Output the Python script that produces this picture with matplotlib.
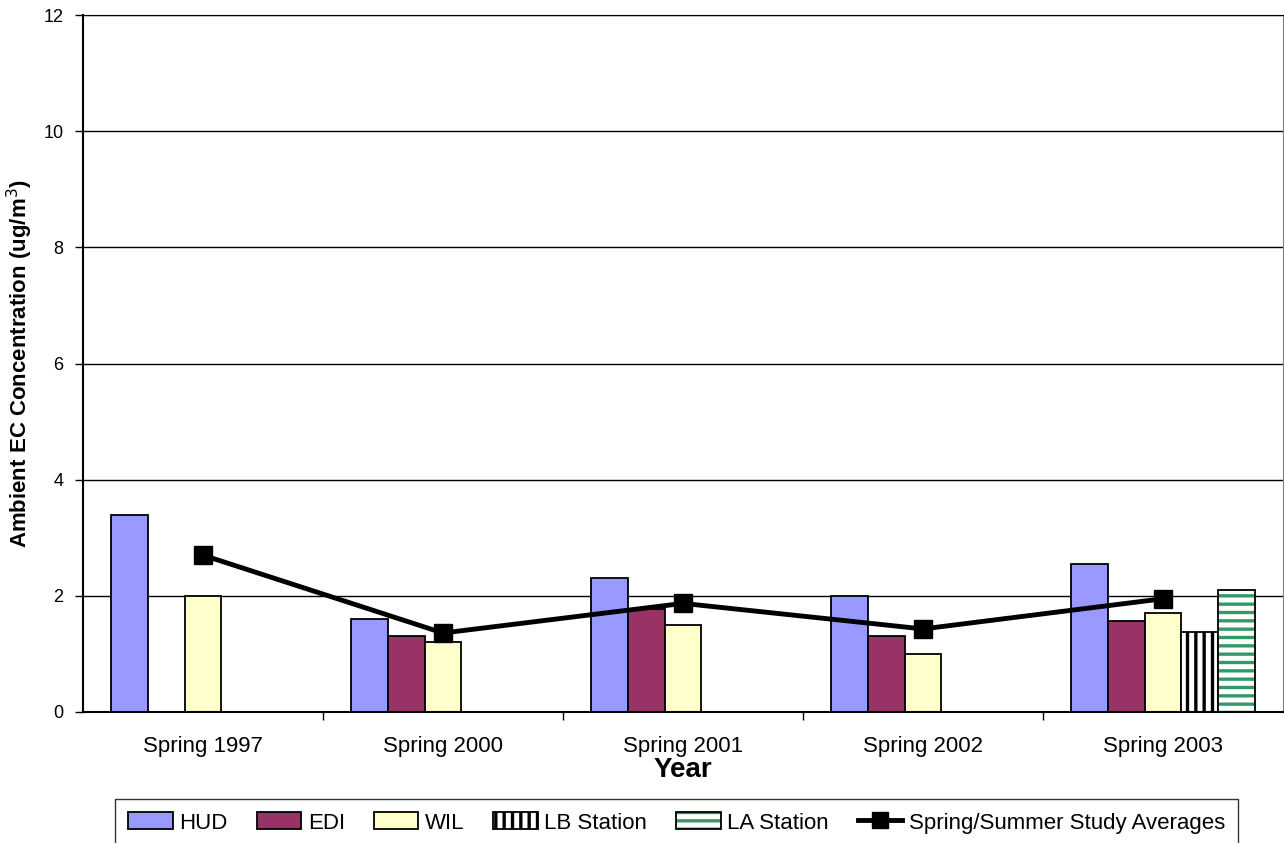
import numpy as np
import matplotlib
matplotlib.use("Agg")
import matplotlib.pyplot as plt
from matplotlib.patches import Patch
from matplotlib.lines import Line2D

plt.rcParams['font.family'] = ['Liberation Sans', 'DejaVu Sans']
plt.rcParams['hatch.linewidth'] = 2.4

# ambient EC by site and campaign (ug/m3); nan = not sampled
seasons = ["Spring 1997", "Spring 2000", "Spring 2001", "Spring 2002", "Spring 2003"]
hud = [3.4, 1.6, 2.3, 2.0, 2.55]
edi = [np.nan, 1.3, 1.78, 1.3, 1.57]
wil = [2.0, 1.2, 1.5, 1.0, 1.71]
lb_station = [np.nan, np.nan, np.nan, np.nan, 1.38]
la_station = [np.nan, np.nan, np.nan, np.nan, 2.1]
study_avg = [2.7, 1.36, 1.87, 1.43, 1.95]

fig = plt.figure(figsize=(12.84, 8.43), dpi=100)
ax = fig.add_axes([83 / 1284, 1 - 712 / 843, 1200 / 1284, 697 / 843])

x = np.arange(len(seasons))
w = 0.154

ax.bar(x - 2 * w, hud, w, color="#9999FF", edgecolor="black", linewidth=1.3, zorder=2)
ax.bar(x - w, edi, w, color="#993366", edgecolor="black", linewidth=1.3, zorder=2)
ax.bar(x, wil, w, color="#FFFFCC", edgecolor="black", linewidth=1.3, zorder=2)
ax.bar(x + w, lb_station, w, color="white", edgecolor="black", hatch="||",
       linewidth=1.3, zorder=2)
# green stripes first, black outline on top
ax.bar(x + 2 * w, la_station, w, color="white", edgecolor="#339966", hatch="--",
       linewidth=0, zorder=2)
ax.bar(x + 2 * w, la_station, w, fill=False, edgecolor="black", linewidth=1.3, zorder=2)

ax.plot(x, study_avg, color="black", lw=3.5, marker="s", markersize=13, zorder=4)

ax.set_xlim(-0.5, len(seasons) - 0.5)
ax.set_ylim(0, 12)
ax.set_yticks(range(0, 13, 2))
ax.yaxis.grid(True, color="black", lw=1)
ax.set_axisbelow(True)

ax.set_xticks(x)
ax.set_xticklabels(seasons, fontsize=16)
ax.set_xticks(np.arange(0.5, len(seasons) - 0.5, 1), minor=True)
ax.tick_params(axis="x", which="major", length=0, pad=17)
ax.tick_params(axis="x", which="minor", length=6, width=1, direction="out")
ax.tick_params(axis="y", labelsize=13, length=6, width=1, pad=8)

for side in ["left", "bottom"]:
    ax.spines[side].set_linewidth(1.5)
ax.spines["top"].set_color("black")
ax.spines["right"].set_color("#808080")

ax.set_xlabel("Year", fontsize=20, fontweight="bold", labelpad=0)
ax.set_ylabel("Ambient EC Concentration (ug/m$^3$)", fontsize=16, fontweight="bold",
              labelpad=6)

handles = [
    Patch(facecolor="#9999FF", edgecolor="black", lw=1.3),
    Patch(facecolor="#993366", edgecolor="black", lw=1.3),
    Patch(facecolor="#FFFFCC", edgecolor="black", lw=1.3),
    Patch(facecolor="white", edgecolor="black", hatch="||", lw=1.3),
    (Patch(facecolor="white", edgecolor="#339966", hatch="--", lw=0),
     Patch(fill=False, edgecolor="black", lw=1.3)),
    Line2D([], [], color="black", lw=3.5, marker="s", markersize=11),
]
labels = ["HUD", "EDI", "WIL", "LB Station", "LA Station", "Spring/Summer Study Averages"]
leg = fig.legend(handles, labels, loc="upper center", bbox_to_anchor=(0.527, 1 - 799 / 843),
                 borderaxespad=0, ncol=6, fontsize=16, frameon=True, fancybox=False,
                 edgecolor="black", handlelength=2.0, handleheight=0.8, handletextpad=0.3,
                 columnspacing=1.3, borderpad=0.6, numpoints=1)
leg.get_frame().set_linewidth(1.0)

fig.savefig("out.png", dpi=100)
